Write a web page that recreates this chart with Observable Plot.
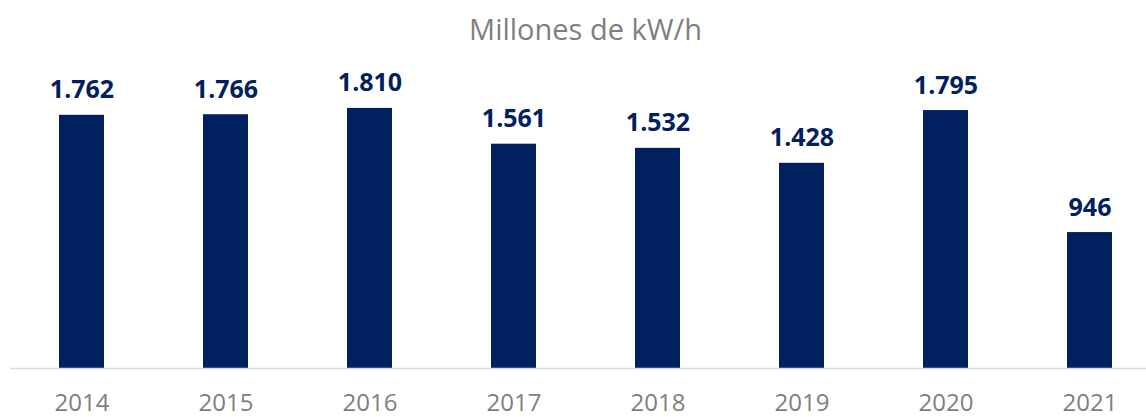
<!DOCTYPE html>
<html>
<head>
<meta charset="utf-8">
<script src="https://cdn.jsdelivr.net/npm/d3@7"></script>
<script src="https://cdn.jsdelivr.net/npm/@observablehq/plot@0.6"></script>
<style>
  html, body { margin: 0; padding: 0; background: #fff; }
  #chart svg { display: block; }
</style>
</head>
<body>
<div id="chart"></div>
<script>
const years = ["2014", "2015", "2016", "2017", "2018", "2019", "2020", "2021"];
const values = [1762, 1766, 1810, 1561, 1532, 1428, 1795, 946];
const title = "Millones de kW/h";

const data = years.map((year, i) => ({ year, value: values[i] }));
const esFormat = d3.formatLocale({ decimal: ",", thousands: ".", grouping: [3], currency: ["", "€"] }).format(",d");

const navy = "#002060";
const gray = "#7f7f7f";
const font = "'Open Sans', sans-serif";

const chart = Plot.plot({
  width: 1146,
  height: 417,
  marginLeft: 10,
  marginRight: 0,
  marginTop: 0,
  marginBottom: 49,
  style: { fontFamily: font, background: "#fff" },
  x: { domain: years, range: [9.5, 1161.5], paddingInner: 0.69, paddingOuter: 0.345, label: null },
  y: { domain: [0, 2000], range: [368, 80.6], axis: null },
  marks: [
    Plot.barY(data, { x: "year", y: "value", fill: navy }),
    Plot.ruleY([0], { stroke: "#d9d9d9", strokeWidth: 1.5 }),
    Plot.text(data, {
      x: "year", y: "value", text: d => esFormat(d.value),
      fill: navy, fontSize: 25, fontWeight: "bold", lineAnchor: "bottom", dy: -17
    }),
    Plot.axisX({ tickSize: 0, tickPadding: 25, fontSize: 24, color: gray, label: null }),
    Plot.text([title], {
      frameAnchor: "top", dx: 7, dy: 39, text: d => d, lineAnchor: "bottom",
      fill: gray, fontSize: 29, fontWeight: 400
    })
  ]
});
document.getElementById("chart").appendChild(chart);
</script>
</body>
</html>
